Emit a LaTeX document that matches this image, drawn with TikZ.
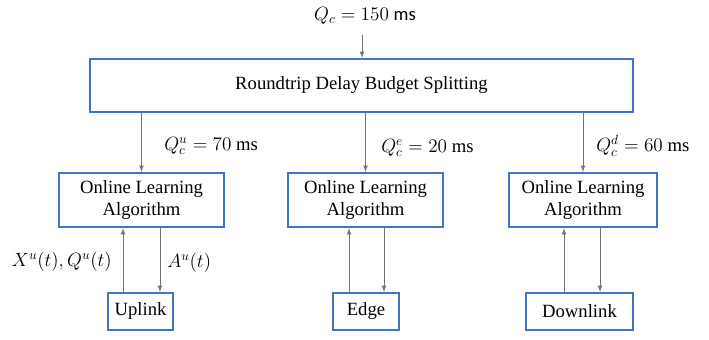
\documentclass[tikz,border=0pt]{standalone}
\usepackage{amsmath,amsfonts}
\usepackage{fontspec}
\setmainfont{Liberation Serif}
\setsansfont{Carlito}
\usetikzlibrary{arrows}

\definecolor{boxblue}{RGB}{68,114,196}
\tikzset{
  blockbox/.style={draw=boxblue, line width=1.7pt, fill=white, align=center,
    inner sep=0pt, font=\fontsize{14}{16.5}\selectfont},
  flowline/.style={draw=black!55, line width=0.6pt, -latex},
  budget/.style={inner sep=0.75pt, font=\fontsize{14}{16.5}\selectfont}
}

\begin{document}
\begin{tikzpicture}[x=0.75pt,y=0.75pt,yscale=-1,xscale=1]
\useasboundingbox (0,0) rectangle (709,339);

% Top budget and splitting block
\node (qc) [budget] at (365,16) {$Q_c = 150$ \textsf{ms}};
\node (split) [blockbox, minimum width=407pt, minimum height=39.75pt] at (361.5,85.5) {Roundtrip Delay Budget Splitting};

% Online learning blocks
\node (ola1) [blockbox, minimum width=123.75pt, minimum height=40.5pt] at (141.5,200) {Online Learning\\Algorithm};
\node (ola2) [blockbox, minimum width=116.25pt, minimum height=40.5pt] at (365.5,200) {Online Learning\\Algorithm};
\node (ola3) [blockbox, minimum width=111pt, minimum height=40.5pt] at (583,200) {Online Learning\\Algorithm};

% Link blocks
\node (uplink) [blockbox, minimum width=48.75pt, minimum height=27.75pt] at (140.5,311.5) {Uplink};
\node (edge) [blockbox, minimum width=49.5pt, minimum height=27.75pt] at (366,311.5) {Edge};
\node (downlink) [blockbox, minimum width=80.25pt, minimum height=27.75pt] at (579.5,311.5) {Downlink};

% Budget arrows
\coordinate (qcin) at (362,35);
\draw [flowline] (qcin) -- (qcin |- split.north);
\draw [flowline] (split.south -| ola1.north) -- (ola1.north);
\draw [flowline] (split.south -| ola2.north) -- (ola2.north);
\draw [flowline] (split.south -| ola3.north) -- (ola3.north);

% Budget labels
\node (qcu) [budget, anchor=west] at (163,146) {$Q_c^u = 70$ ms};
\node (qce) [budget, anchor=west] at (380,148) {$Q_c^e = 20$ ms};
\node (qcd) [budget, anchor=west] at (595,146) {$Q_c^d = 60$ ms};

% Feedback loops
\draw [flowline] ([xshift=-13.1pt]uplink.north) -- ([xshift=-13.1pt]uplink.north |- ola1.south);
\draw [flowline] ([xshift=14.6pt]uplink.north |- ola1.south) -- ([xshift=14.6pt]uplink.north);
\draw [flowline] ([xshift=-12.75pt]edge.north) -- ([xshift=-12.75pt]edge.north |- ola2.south);
\draw [flowline] ([xshift=13.5pt]edge.north |- ola2.south) -- ([xshift=13.5pt]edge.north);
\draw [flowline] ([xshift=-11.6pt]downlink.north) -- ([xshift=-11.6pt]downlink.north |- ola3.south);
\draw [flowline] ([xshift=15.4pt]downlink.north |- ola3.south) -- ([xshift=15.4pt]downlink.north);

% Loop labels
\node (state) [budget, anchor=east] at (113,262) {$X^u(t), Q^u(t)$};
\node (action) [budget, anchor=west] at (166,263) {$A^u(t)$};

\end{tikzpicture}
\end{document}
